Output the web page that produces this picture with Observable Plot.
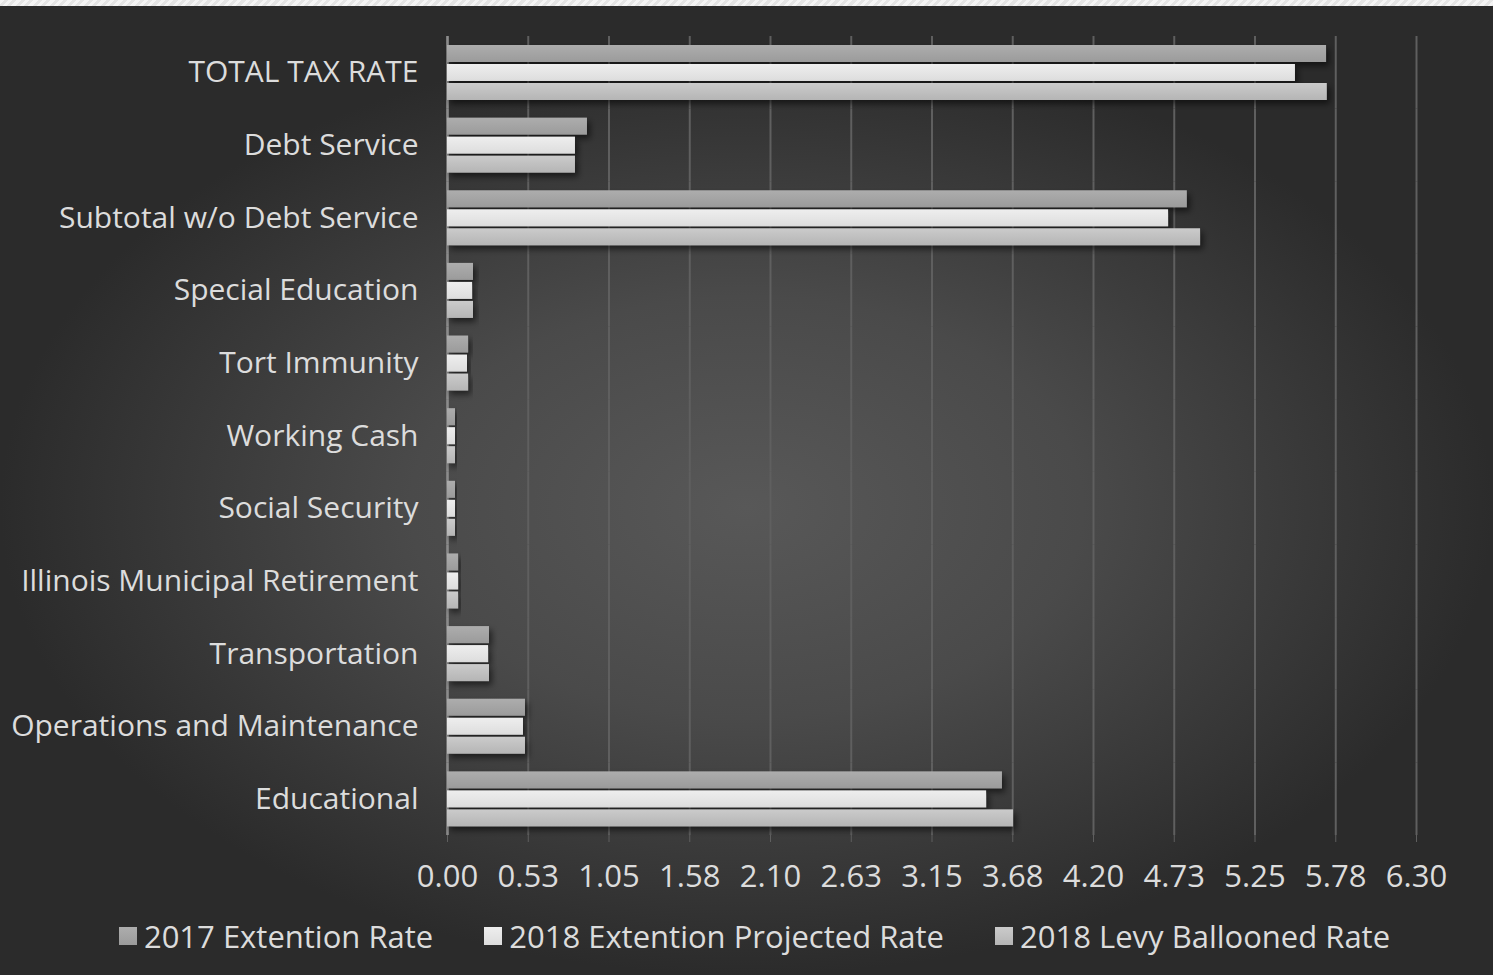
<!DOCTYPE html>
<html>
<head>
<meta charset="utf-8">
<script src="https://cdn.jsdelivr.net/npm/d3@7"></script>
<script src="https://cdn.jsdelivr.net/npm/@observablehq/plot@0.6"></script>
<style>
  html, body { margin: 0; padding: 0; }
  body {
    width: 1493px; height: 975px; overflow: hidden; position: relative;
    background: radial-gradient(ellipse closest-side at 50% 52%, #585858 0%, #4a4a4a 45%, #2b2b2b 100%);
    background-color: #2b2b2b;
    font-family: "Open Sans", Lato, sans-serif;
  }
  #strip {
    position: absolute; left: 0; top: 0; width: 1493px; height: 6px;
    background: repeating-linear-gradient(135deg, #f4f4f4 0 3px, #e4e4e4 3px 6px);
  }
  #chart { position: absolute; left: 0; top: 0; }
  #legend {
    position: absolute; left: 0; top: 914px; width: 1493px; height: 44px;
    display: flex; justify-content: center; align-items: center; gap: 51px;
    padding-left: 16px; box-sizing: border-box;
    color: #dcdcdc; font-size: 31px;
  }
  .item { display: flex; align-items: center; gap: 7px; }
  .sw { width: 18px; height: 18px; display: inline-block; }
</style>
</head>
<body>
<div id="strip"></div>
<div id="chart"></div>
<div id="legend"></div>
<script>
const categories = [
  "TOTAL TAX RATE", "Debt Service", "Subtotal w/o Debt Service", "Special Education",
  "Tort Immunity", "Working Cash", "Social Security", "Illinois Municipal Retirement",
  "Transportation", "Operations and Maintenance", "Educational"
];
const seriesNames = ["2017 Extention Rate", "2018 Extention Projected Rate", "2018 Levy Ballooned Rate"];
const rate2017     = [5.715, 0.91, 4.81, 0.169, 0.137, 0.052, 0.052, 0.072, 0.273, 0.507, 3.608];
const rate2018proj = [5.513, 0.832, 4.688, 0.163, 0.13, 0.052, 0.052, 0.072, 0.267, 0.494, 3.505];
const rate2018levy = [5.72, 0.832, 4.896, 0.169, 0.137, 0.052, 0.052, 0.072, 0.273, 0.507, 3.68];
const tickValues = [0, 0.525, 1.05, 1.575, 2.1, 2.625, 3.15, 3.675, 4.2, 4.725, 5.25, 5.775, 6.3];
const tickLabels = ["0.00", "0.53", "1.05", "1.58", "2.10", "2.63", "3.15", "3.68", "4.20", "4.73", "5.25", "5.78", "6.30"];

const gradIds = ["g2017", "g2018p", "g2018l"];
const gradStops = [["#adadad", "#9b9b9b"], ["#eeeeee", "#dddddd"], ["#cbcbcb", "#b5b5b5"]];

const allSeries = [rate2017, rate2018proj, rate2018levy];
const rows = [];
allSeries.forEach((arr, s) => arr.forEach((v, i) => rows.push({category: categories[i], series: seriesNames[s], value: v})));

const svgPlot = Plot.plot({
  width: 1493,
  height: 905,
  marginTop: 36,
  marginBottom: 70,
  marginLeft: 447,
  marginRight: 77,
  style: {background: "transparent", fontFamily: "'Open Sans', Lato, sans-serif", fontSize: "31px", color: "#dcdcdc"},
  x: {domain: [0, 6.3]},
  y: {domain: seriesNames, paddingInner: 0.12, paddingOuter: 0.4, axis: null},
  fy: {domain: categories, paddingInner: 0, paddingOuter: 0, round: false},
  marks: [
    Plot.gridX({ticks: tickValues, stroke: "#5f5f5f", strokeOpacity: 1, strokeWidth: 2}),
    Plot.ruleX([0], {stroke: "#8c8c8c", strokeWidth: 2.5}),
    ...seriesNames.map((name, s) =>
      Plot.barX(rows.filter(d => d.series === name), {
        x: "value", y: "series", fy: "category", fill: `url(#${gradIds[s]})`
      })
    ),
    Plot.axisX({ticks: tickValues, tickFormat: (d) => tickLabels[tickValues.indexOf(d)], tickSize: 7, tickPadding: 22, stroke: "#5f5f5f", fill: "#dcdcdc", fontSize: 31, label: null}),
    Plot.axisFy({anchor: "left", tickSize: 0, tickPadding: 29, fill: "#dcdcdc", fontSize: 30, label: null})
  ]
});

const svg = d3.select(svgPlot);
const defs = svg.insert("defs", ":first-child");
gradIds.forEach((id, i) => {
  const g = defs.append("linearGradient").attr("id", id).attr("x1", 0).attr("y1", 0).attr("x2", 0).attr("y2", 1);
  g.append("stop").attr("offset", "0%").attr("stop-color", gradStops[i][0]);
  g.append("stop").attr("offset", "100%").attr("stop-color", gradStops[i][1]);
});
const f = defs.append("filter").attr("id", "shadow").attr("x", "-10%").attr("y", "-50%").attr("width", "130%").attr("height", "250%");
f.append("feDropShadow").attr("dx", 3).attr("dy", 4).attr("stdDeviation", 3).attr("flood-color", "#000").attr("flood-opacity", 0.55);
svg.selectAll("g[aria-label='bar'] rect").attr("filter", "url(#shadow)");

document.getElementById("chart").appendChild(svgPlot);

const legend = document.getElementById("legend");
seriesNames.forEach((name, i) => {
  const item = document.createElement("div");
  item.className = "item";
  const sw = document.createElement("span");
  sw.className = "sw";
  sw.style.background = `linear-gradient(${gradStops[i][0]}, ${gradStops[i][1]})`;
  const t = document.createElement("span");
  t.textContent = name;
  item.appendChild(sw); item.appendChild(t);
  legend.appendChild(item);
});
</script>
</body>
</html>
